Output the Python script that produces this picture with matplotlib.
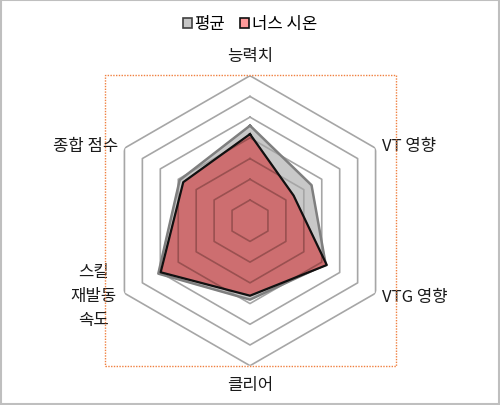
import numpy as np
import matplotlib.pyplot as plt
from matplotlib.patches import Patch, Rectangle

plt.rcParams['font.family'] = ['Noto Sans CJK KR', 'DejaVu Sans']

# chart data (scale 0..7)
categories = ['능력치', 'VT 영향', 'VTG 영향', '클리어', '스킬\n재발동\n속도', '종합 점수']
avg_values = [4.59, 3.43, 4.22, 3.81, 5.11, 3.92]
nurse_values = [4.18, 2.43, 4.28, 3.62, 4.98, 3.72]
series_names = ['평균', '너스 시온']
r_max = 7

W, H = 500, 406
fig = plt.figure(figsize=(W / 100, H / 100), dpi=100)

# center of the radar in pixels and outer radius
cx, cy, R = 250, 221.7, 145
ax = fig.add_axes([(cx - R) / W, (H - cy - R) / H, 2 * R / W, 2 * R / H], projection='polar')
ax.set_theta_zero_location('N')
ax.set_theta_direction(-1)
ax.set_ylim(0, r_max)
ax.grid(False)
ax.set_xticks([])
ax.set_yticks([])
ax.spines['polar'].set_visible(False)
ax.patch.set_alpha(0)

n = len(categories)
theta = np.linspace(0, 2 * np.pi, n, endpoint=False)
theta_c = np.append(theta, theta[0])
avg_c = avg_values + avg_values[:1]
nur_c = nurse_values + nurse_values[:1]

# grey series fill, then the hexagon rings on top of it
ax.fill(theta_c, avg_c, color='#c8c8c8', zorder=1)
for k in range(1, r_max + 1):
    ax.plot(theta_c, [k] * (n + 1), color='#a6a6a6', lw=1.2, zorder=2)
ax.plot(theta_c, avg_c, color='#7f7f7f', lw=1.8, zorder=3)

# red series, rings show through it a bit darker
red_poly = ax.fill(theta_c, nur_c, color='#cd6e70', zorder=4)[0]
for k in range(1, r_max + 1):
    ring, = ax.plot(theta_c, [k] * (n + 1), color='#9a5050', lw=1.2, zorder=5)
    ring.set_clip_path(red_poly)
ax.plot(theta_c, nur_c, color='#111111', lw=1.6, zorder=6)

# category labels
offsets = [(0, 20, 'center'), (6, 3, 'left'), (6, -3, 'left'),
           (0, -19, 'center'), (-31, -2, 'center'), (-6, 3, 'right')]
for t, lab, (dx, dy, ha) in zip(theta, categories, offsets):
    ax.annotate(lab, xy=(t, r_max), xytext=(dx, dy), textcoords='offset pixels',
                ha=ha, va='center', fontsize=12, linespacing=1.55,
                color='#1a1a1a', annotation_clip=False)

# plot area border (dotted orange) and chart border
fig.add_artist(Rectangle((105 / W, (H - 367) / H), 291 / W, 291 / H,
                         transform=fig.transFigure, fill=False,
                         edgecolor='#f08040', lw=1, linestyle=(0, (1, 1))))
fig.add_artist(Rectangle((0.002, 0.002), 0.996, 0.996, transform=fig.transFigure,
                         fill=False, edgecolor='#bfbfbf', lw=1.5))

handles = [Patch(facecolor='#c6c6c6', edgecolor='#404040', lw=1.2),
           Patch(facecolor='#ff9a9a', edgecolor='#111111', lw=1.2)]
fig.legend(handles, series_names, loc='center', bbox_to_anchor=(0.5, (H - 25) / H),
           ncol=2, frameon=False, fontsize=12, handlelength=0.55, handleheight=0.55,
           handletextpad=0.15, columnspacing=0.9)

fig.savefig('out.png', dpi=100)
